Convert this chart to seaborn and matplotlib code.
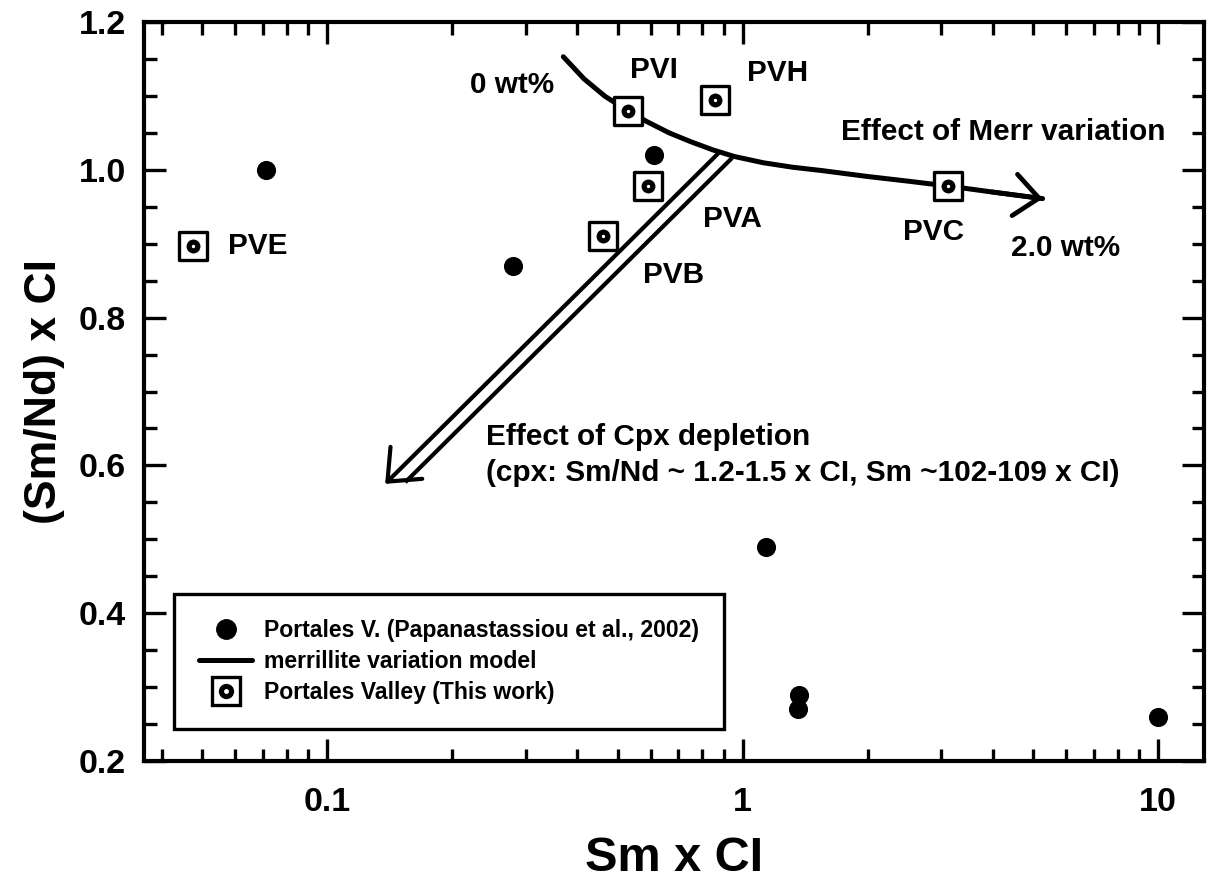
import numpy as np
import matplotlib
matplotlib.use("Agg")
import matplotlib.pyplot as plt
import matplotlib.ticker as mticker
from matplotlib.lines import Line2D
import pandas as pd
import seaborn as sns

# Portales V. (Papanastassiou et al., 2002)
papa_sm = [0.071, 0.28, 0.61, 1.14, 1.37, 1.36, 10.0]
papa_smnd = [1.00, 0.87, 1.02, 0.49, 0.29, 0.27, 0.26]

# Portales Valley (this work)
pv_names = ["PVE", "PVB", "PVI", "PVA", "PVH", "PVC"]
pv_sm = [0.0475, 0.46, 0.53, 0.59, 0.86, 3.12]
pv_smnd = [0.897, 0.910, 1.080, 0.978, 1.095, 0.978]

# merrillite variation model, 0 wt% -> 2.0 wt%
merr_sm = [0.370, 0.415, 0.466, 0.522, 0.589, 0.665, 0.750, 0.847, 0.955,
           1.122, 1.318, 1.549, 1.995, 2.512, 3.126, 3.981, 5.272]
merr_smnd = [1.153, 1.123, 1.0995, 1.082, 1.065, 1.050, 1.038, 1.027, 1.018,
             1.0095, 1.0035, 0.999, 0.991, 0.9845, 0.978, 0.970, 0.961]

# cpx depletion vector (start on the model curve, tip)
cpx_start = (0.872, 1.0219)
cpx_tip = (0.1378, 0.575)

# text annotations: (text, x, y)
labels = [
    ("0 wt%", 0.279, 1.115),
    ("PVI", 0.612, 1.135),
    ("PVH", 1.216, 1.1315),
    ("Effect of Merr variation", 4.23, 1.0505),
    ("PVA", 0.9425, 0.9334),
    ("PVB", 0.6835, 0.857),
    ("PVC", 2.884, 0.9158),
    ("2.0 wt%", 6.0, 0.8942),
    ("PVE", 0.0679, 0.8969),
]
cpx_lines = [
    ("Effect of Cpx depletion", 0.2413, 0.6388),
    ("(cpx: Sm/Nd ~ 1.2-1.5 x CI, Sm ~102-109 x CI)", 0.2413, 0.5904),
]

x_ticks = [0.1, 1, 10]
y_ticks = [0.2, 0.4, 0.6, 0.8, 1.0, 1.2]

papa = pd.DataFrame({"sm": papa_sm, "smnd": papa_smnd})
pv = pd.DataFrame({"name": pv_names, "sm": pv_sm, "smnd": pv_smnd})
merr = pd.DataFrame({"sm": merr_sm, "smnd": merr_smnd})

sns.set_style("ticks")
plt.rcParams["font.family"] = ["Liberation Sans", "DejaVu Sans"]
plt.rcParams["font.weight"] = "bold"
plt.rcParams["axes.labelweight"] = "bold"
for key in ("text.color", "axes.labelcolor", "xtick.color", "ytick.color",
            "axes.edgecolor"):
    plt.rcParams[key] = "black"

fig = plt.figure(figsize=(12.09, 8.80), dpi=100)
ax = fig.add_axes([0.1191, 0.1352, 0.8768, 0.8398])
ax.set_xscale("log")
ax.set_xlim(0.0362, 12.9)
ax.set_ylim(0.2, 1.2)

# hollow cpx depletion arrow: left rail carries the open head,
# right rail runs parallel and stops on the lower barb
ax.annotate("", xy=cpx_tip, xytext=cpx_start,
            arrowprops=dict(arrowstyle="->,head_length=0.96,head_width=0.81",
                            mutation_scale=20, lw=3.0, color="black",
                            shrinkA=0, shrinkB=0), zorder=2)
to_disp = ax.transData.transform
to_data = ax.transData.inverted().transform
p0 = to_disp(cpx_start)
p1 = to_disp(cpx_tip)
d = (p1 - p0) / np.linalg.norm(p1 - p0)
perp = np.array([-d[1], d[0]])
gap = 13.0
rail = to_data(np.array([p0 + perp * gap - d * 7.0,
                         p1 + perp * gap - d * gap / np.tan(np.radians(40))]))
ax.plot(rail[:, 0], rail[:, 1], color="black", lw=3.0, solid_capstyle="butt", zorder=2)

# merrillite model curve with arrow at 2.0 wt%
sns.lineplot(data=merr, x="sm", y="smnd", sort=False, estimator=None, color="black",
             linewidth=3.6, ax=ax, zorder=3, legend=False,
             solid_joinstyle="round", solid_capstyle="round")
ax.annotate("", xy=(merr_sm[-1], merr_smnd[-1]), xytext=(merr_sm[-2], merr_smnd[-2]),
            arrowprops=dict(arrowstyle="->,head_length=0.88,head_width=0.75",
                            mutation_scale=20, lw=3.4, color="black",
                            shrinkA=0, shrinkB=0), zorder=3)

# Papanastassiou et al. data
sns.scatterplot(data=papa, x="sm", y="smnd", marker="o", s=190, color="black",
                edgecolor="black", linewidth=0, ax=ax, zorder=4, legend=False)

# this work: open square with a small centred symbol
sns.scatterplot(data=pv, x="sm", y="smnd", marker="s", s=392, color="white",
                edgecolor="black", linewidth=2.4, ax=ax, zorder=5, legend=False)
sns.scatterplot(data=pv, x="sm", y="smnd", marker="o", s=100, color="black",
                edgecolor="black", linewidth=0, ax=ax, zorder=6, legend=False)
sns.scatterplot(data=pv, x="sm", y="smnd", marker="o", s=6, color="white",
                edgecolor="white", linewidth=0, ax=ax, zorder=7, legend=False)

for txt, x, y in labels:
    ax.text(x, y, txt, fontsize=21.4, fontweight="bold", ha="center", va="center",
            zorder=8)
for txt, x, y in cpx_lines:
    ax.text(x, y, txt, fontsize=21.4, fontweight="bold", ha="left", va="center",
            zorder=8)

# axes styling
for sp in ax.spines.values():
    sp.set_linewidth(3.0)
    sp.set_color("black")
ax.xaxis.set_major_locator(mticker.FixedLocator(x_ticks))
ax.xaxis.set_major_formatter(mticker.FixedFormatter([f"{t:g}" for t in x_ticks]))
ax.xaxis.set_minor_locator(mticker.LogLocator(base=10, subs=range(2, 10), numticks=20))
ax.xaxis.set_minor_formatter(mticker.NullFormatter())
ax.yaxis.set_major_locator(mticker.FixedLocator(y_ticks))
ax.yaxis.set_major_formatter(mticker.FormatStrFormatter("%.1f"))
ax.yaxis.set_minor_locator(mticker.MultipleLocator(0.05))
ax.tick_params(which="both", direction="in", top=True, right=True, width=2.4,
               color="black", labelcolor="black", labelsize=24.5)
ax.tick_params(which="major", length=16)
ax.tick_params(which="minor", length=9)
ax.tick_params(axis="x", which="major", pad=18.5)
ax.tick_params(axis="y", which="major", pad=13)
for lab in ax.get_xticklabels() + ax.get_yticklabels():
    lab.set_fontweight("bold")

ax.set_xlabel("Sm x CI", fontsize=35, fontweight="bold", labelpad=13)
ax.set_ylabel("(Sm/Nd) x CI", fontsize=32, fontweight="bold", labelpad=10)

# legend
h_papa = Line2D([], [], ls="none", marker="o", ms=14, color="black")
h_merr = Line2D([], [], color="black", lw=3.6)
h_sq = Line2D([], [], ls="none", marker="s", ms=20, mfc="white", mec="black", mew=2.4)
h_in = Line2D([], [], ls="none", marker="o", ms=10, color="black")
h_dot = Line2D([], [], ls="none", marker="o", ms=2.5, color="white")
leg = ax.legend([h_papa, h_merr, (h_sq, h_in, h_dot)],
                ["Portales V. (Papanastassiou et al., 2002)",
                 "merrillite variation model",
                 "Portales Valley (This work)"],
                loc="lower left", bbox_to_anchor=(0.0283, 0.0433), borderaxespad=0,
                prop={"size": 16.6, "weight": "bold"}, frameon=True, fancybox=False,
                framealpha=1, edgecolor="black", handlelength=2.3, handletextpad=0.5,
                borderpad=1.1, labelspacing=0.33)
leg.get_frame().set_linewidth(2.4)
for t in leg.get_texts():
    t.set_color("black")

fig.savefig("out.png", dpi=100)
